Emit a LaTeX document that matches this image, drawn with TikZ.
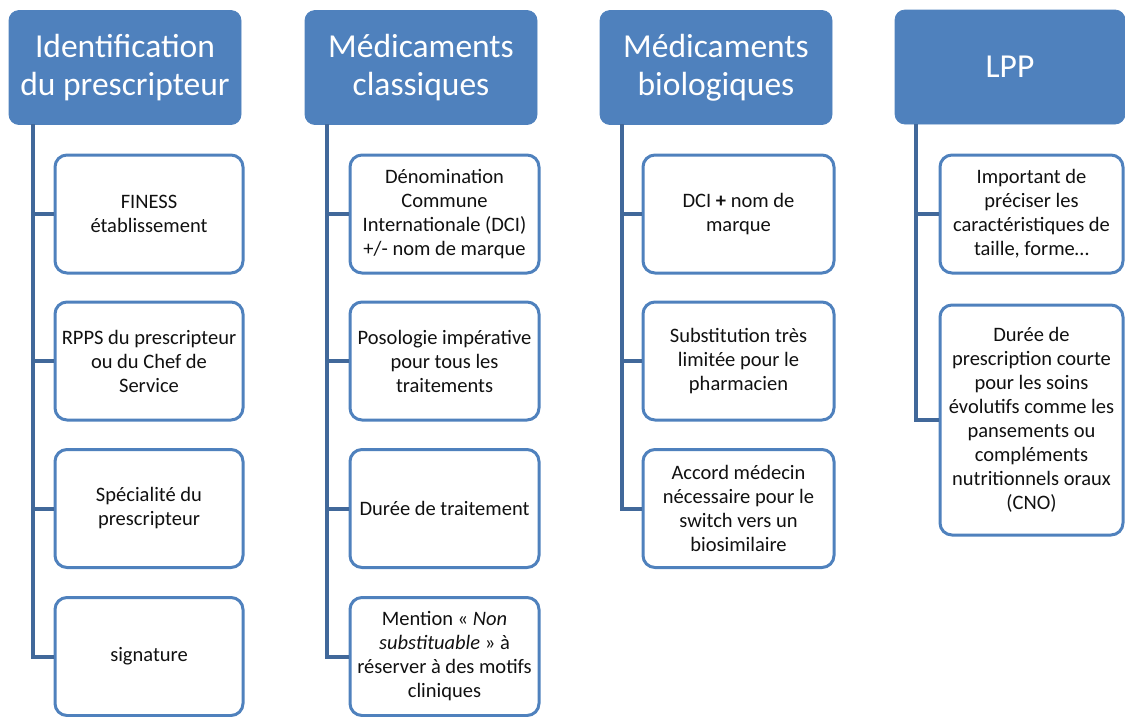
\documentclass[tikz,border=0pt]{standalone}
\usepackage{fontspec}
\setmainfont{Carlito}
\definecolor{hdr}{HTML}{4F81BD}
\definecolor{bord}{HTML}{4F81BD}
\definecolor{conn}{HTML}{41689A}
\definecolor{txt}{HTML}{111111}
\tikzset{
  hdrbox/.style={fill=hdr, draw=hdr, line width=0.8pt, rounded corners=10pt, minimum width=232pt, minimum height=114pt, text=white, align=center, inner sep=0pt, font=\fontsize{33.5}{37.5}\selectfont},
  itembox/.style={fill=white, draw=bord, line width=3pt, rounded corners=12pt, minimum height=118pt, text=txt, align=center, inner sep=0pt, font=\fontsize{20.5}{24}\selectfont},
  connline/.style={draw=conn, line width=4pt},
}
\begin{document}
\begin{tikzpicture}[x=1pt,y=-1pt]
\useasboundingbox (0,0) rectangle (1125,716);
% headers
\node[hdrbox] (h1) at (125,67.5) {Identification\\du prescripteur};
\node[hdrbox] (h2) at (421,67.5) {Médicaments\\classiques};
\node[hdrbox] (h3) at (716,67.5) {Médicaments\\biologiques};
\node[hdrbox, minimum width=230pt] (h4) at (1010,67) {LPP};
% trunk start points
\coordinate (t1) at (33,124);
\coordinate (t2) at (327,124);
\coordinate (t3) at (622,124);
\coordinate (t4) at (916,124);
% column 1
\node[itembox, minimum width=188pt] (a1) at (149,214) {FINESS\\établissement};
\node[itembox, minimum width=188pt] (a2) at (149,361) {RPPS du prescripteur\\ou du Chef de\\Service};
\node[itembox, minimum width=188pt] (a3) at (149,508.5) {Spécialité du\\prescripteur};
\node[itembox, minimum width=188pt] (a4) at (149,656.5) {signature};
% column 2
\node[itembox, minimum width=189pt] (b1) at (444.5,214) {Dénomination\\Commune\\Internationale (DCI)\\+/- nom de marque};
\node[itembox, minimum width=189pt] (b2) at (444.5,361) {Posologie impérative\\pour tous les\\traitements};
\node[itembox, minimum width=189pt] (b3) at (444.5,508.5) {Durée de traitement};
\node[itembox, minimum width=189pt] (b4) at (444.5,656.5) {Mention « \textit{Non}\\\textit{substituable} » à\\réserver à des motifs\\cliniques};
% column 3
\node[itembox, minimum width=191pt] (c1) at (738.5,214) {DCI \textbf{+} nom de\\marque};
\node[itembox, minimum width=191pt] (c2) at (738.5,361) {Substitution très\\limitée pour le\\pharmacien};
\node[itembox, minimum width=191pt] (c3) at (738.5,508.5) {Accord médecin\\nécessaire pour le\\switch vers un\\biosimilaire};
% column 4
\node[itembox, minimum width=183pt] (d1) at (1031.5,214) {Important de\\préciser les\\caractéristiques de\\taille, forme…};
\node[itembox, minimum width=183pt, minimum height=230pt] (d2) at (1031.5,420) {Durée de\\prescription courte\\pour les soins\\évolutifs comme les\\pansements ou\\compléments\\nutritionnels oraux\\(CNO)};
% connectors
\draw[connline] (t1) |- (a4.west);
\foreach \n in {a1,a2,a3} \draw[connline] (t1 |- \n.west) -- (\n.west);
\draw[connline] (t2) |- (b4.west);
\foreach \n in {b1,b2,b3} \draw[connline] (t2 |- \n.west) -- (\n.west);
\draw[connline] (t3) |- (c3.west);
\foreach \n in {c1,c2} \draw[connline] (t3 |- \n.west) -- (\n.west);
\draw[connline] (t4) |- (d2.west);
\draw[connline] (t4 |- d1.west) -- (d1.west);
\end{tikzpicture}
\end{document}
